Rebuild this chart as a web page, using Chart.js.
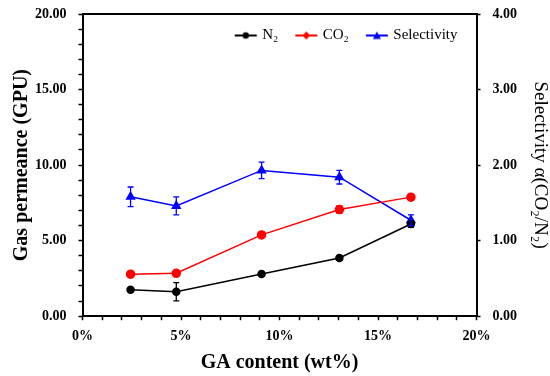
<!DOCTYPE html>
<html>
<head>
<meta charset="utf-8">
<script src="https://cdn.jsdelivr.net/npm/chart.js@4.4.1/dist/chart.umd.min.js"></script>
<style>
  body { margin: 0; background: #fff; }
</style>
</head>
<body>
<canvas id="myChart" width="550" height="376"></canvas>
<script>
const gaContent = [2.44, 4.76, 9.09, 13.04, 16.67];
const n2Perm = [1.75, 1.62, 2.80, 3.85, 6.10];
const co2Perm = [2.78, 2.84, 5.38, 7.06, 7.88];
const selectivity = [1.58, 1.46, 1.93, 1.84, 1.27];
const n2Err = [0.08, 0.6, 0.08, 0.1, 0.22];
const co2Err = [0.08, 0.08, 0.18, 0.25, 0.1];
const selErr = [0.13, 0.12, 0.11, 0.09, 0.07];

const serif = 'Liberation Serif, Times New Roman, serif';

function pts(ys) {
  return gaContent.map((x, i) => ({ x: x, y: ys[i] }));
}

// little line + marker picture for the legend
function legendIcon(color, shape) {
  const c = document.createElement('canvas');
  c.width = 24; c.height = 12;
  const g = c.getContext('2d');
  g.strokeStyle = color; g.fillStyle = color; g.lineWidth = 2;
  g.beginPath(); g.moveTo(1, 6); g.lineTo(23, 6); g.stroke();
  g.beginPath();
  if (shape === 'circle') {
    g.arc(12, 6, 3.2, 0, Math.PI * 2);
  } else if (shape === 'diamond') {
    g.moveTo(12, 2); g.lineTo(16, 6); g.lineTo(12, 10); g.lineTo(8, 6);
  } else {
    g.moveTo(12, 2); g.lineTo(16, 9.5); g.lineTo(8, 9.5);
  }
  g.closePath(); g.fill();
  return c;
}

const errorBars = {
  id: 'errorBars',
  afterDatasetsDraw(chart) {
    const ctx = chart.ctx;
    chart.data.datasets.forEach((ds) => {
      if (!ds.errors) return;
      const xs = chart.scales.x;
      const ys = chart.scales[ds.yAxisID];
      ctx.save();
      ctx.strokeStyle = ds.borderColor;
      ctx.lineWidth = 1.3;
      ds.data.forEach((p, i) => {
        const e = ds.errors[i];
        const px = xs.getPixelForValue(p.x);
        const top = ys.getPixelForValue(p.y + e);
        const bot = ys.getPixelForValue(p.y - e);
        ctx.beginPath();
        ctx.moveTo(px, top); ctx.lineTo(px, bot);
        ctx.moveTo(px - 3, top); ctx.lineTo(px + 3, top);
        ctx.moveTo(px - 3, bot); ctx.lineTo(px + 3, bot);
        ctx.stroke();
      });
      ctx.restore();
    });
  }
};

// lay the in-plot legend out as one row, top right of the plot
const rowLegend = {
  id: 'rowLegend',
  beforeUpdate(chart) {
    if (chart.legend) chart.legend.isHorizontal = () => true;
  },
  afterLayout(chart) {
    const lg = chart.legend, area = chart.chartArea;
    if (!lg) return;
    lg.left = area.left;
    lg.right = area.right;
    lg.top = area.top - 5;
  }
};

// tick padding should not push the plot top down
const trimPad = (s) => { s.paddingTop = 6; s.paddingBottom = 6; };

const ctx = document.getElementById('myChart');

new Chart(ctx, {
  type: 'line',
  data: {
    datasets: [
      {
        label: 'N₂',
        data: pts(n2Perm),
        errors: n2Err,
        yAxisID: 'y',
        borderColor: '#000000',
        backgroundColor: '#000000',
        borderWidth: 1.5,
        pointStyle: 'circle',
        pointRadius: 3.5,
        icon: legendIcon('#000000', 'circle'),
      },
      {
        label: 'CO₂',
        data: pts(co2Perm),
        errors: co2Err,
        yAxisID: 'y',
        borderColor: '#ff0000',
        backgroundColor: '#ff0000',
        borderWidth: 1.5,
        pointStyle: 'circle',
        pointRadius: 4,
        icon: legendIcon('#ff0000', 'diamond'),
      },
      {
        label: 'Selectivity',
        data: pts(selectivity),
        errors: selErr,
        yAxisID: 'y1',
        borderColor: '#0000ff',
        backgroundColor: '#0000ff',
        borderWidth: 1.5,
        pointStyle: 'triangle',
        pointRadius: 4.5,
        icon: legendIcon('#0000ff', 'triangle'),
      },
    ],
  },
  options: {
    responsive: false,
    animation: false,
    layout: { padding: { top: 6, right: 0, left: 0, bottom: 3 } },
    scales: {
      x: {
        type: 'linear',
        min: 0,
        max: 20,
        border: { color: '#000', width: 2 },
        grid: { drawOnChartArea: false, color: '#000', tickLength: 4, tickWidth: 1.5 },
        ticks: {
          stepSize: 1,
          autoSkip: false,
          maxRotation: 0,
          color: '#000',
          padding: 8,
          font: { family: serif, size: 14, weight: 'bold' },
          callback: (v) => (v % 5 === 0 ? v + '%' : ''),
        },
        title: {
          display: true,
          text: 'GA content (wt%)',
          color: '#000',
          padding: { top: 0, bottom: 0 },
          font: { family: serif, size: 20, weight: 'bold', lineHeight: 1 },
        },
      },
      x2: {
        type: 'linear',
        position: 'top',
        min: 0,
        max: 20,
        border: { color: '#000', width: 2 },
        grid: { display: false, tickLength: 8 },
        ticks: { display: false },
      },
      y: {
        position: 'left',
        min: 0,
        max: 20,
        afterFit: trimPad,
        border: { color: '#000', width: 2 },
        grid: { drawOnChartArea: false, color: '#000', tickLength: 4, tickWidth: 1.5 },
        ticks: {
          stepSize: 1,
          autoSkip: false,
          color: '#000',
          padding: 12,
          font: { family: serif, size: 14, weight: 'bold' },
          callback: (v) => (v % 5 === 0 ? v.toFixed(2) : ''),
        },
        title: {
          display: true,
          text: 'Gas permeance (GPU)',
          color: '#000',
          padding: { top: 12, bottom: -9 },
          font: { family: serif, size: 20, weight: 'bold', lineHeight: 1 },
        },
      },
      y1: {
        position: 'right',
        min: 0,
        max: 4,
        afterFit: trimPad,
        border: { color: '#000', width: 2 },
        grid: { drawOnChartArea: false, color: '#000', tickLength: 4, tickWidth: 1.5 },
        ticks: {
          stepSize: 1,
          color: '#000',
          padding: 12,
          font: { family: serif, size: 14, weight: 'bold' },
          callback: (v) => v.toFixed(2),
        },
        title: {
          display: true,
          text: 'Selectivity α(CO₂/N₂)',
          color: '#000',
          padding: { top: 1, bottom: 1 },
          font: { family: serif, size: 19, lineHeight: 1 },
        },
      },
    },
    plugins: {
      legend: {
        position: 'chartArea',
        align: 'end',
        labels: {
          usePointStyle: true,
          pointStyleWidth: 18,
          padding: 19,
          color: '#000',
          font: { family: serif, size: 15 },
          generateLabels: (chart) =>
            chart.data.datasets.map((ds, i) => ({
              text: ds.label,
              pointStyle: ds.icon,
              fillStyle: ds.borderColor,
              strokeStyle: ds.borderColor,
              lineWidth: 0,
              fontColor: '#000',
              hidden: false,
              datasetIndex: i,
            })),
        },
      },
      tooltip: { enabled: false },
    },
  },
  plugins: [errorBars, rowLegend],
});
</script>
</body>
</html>
